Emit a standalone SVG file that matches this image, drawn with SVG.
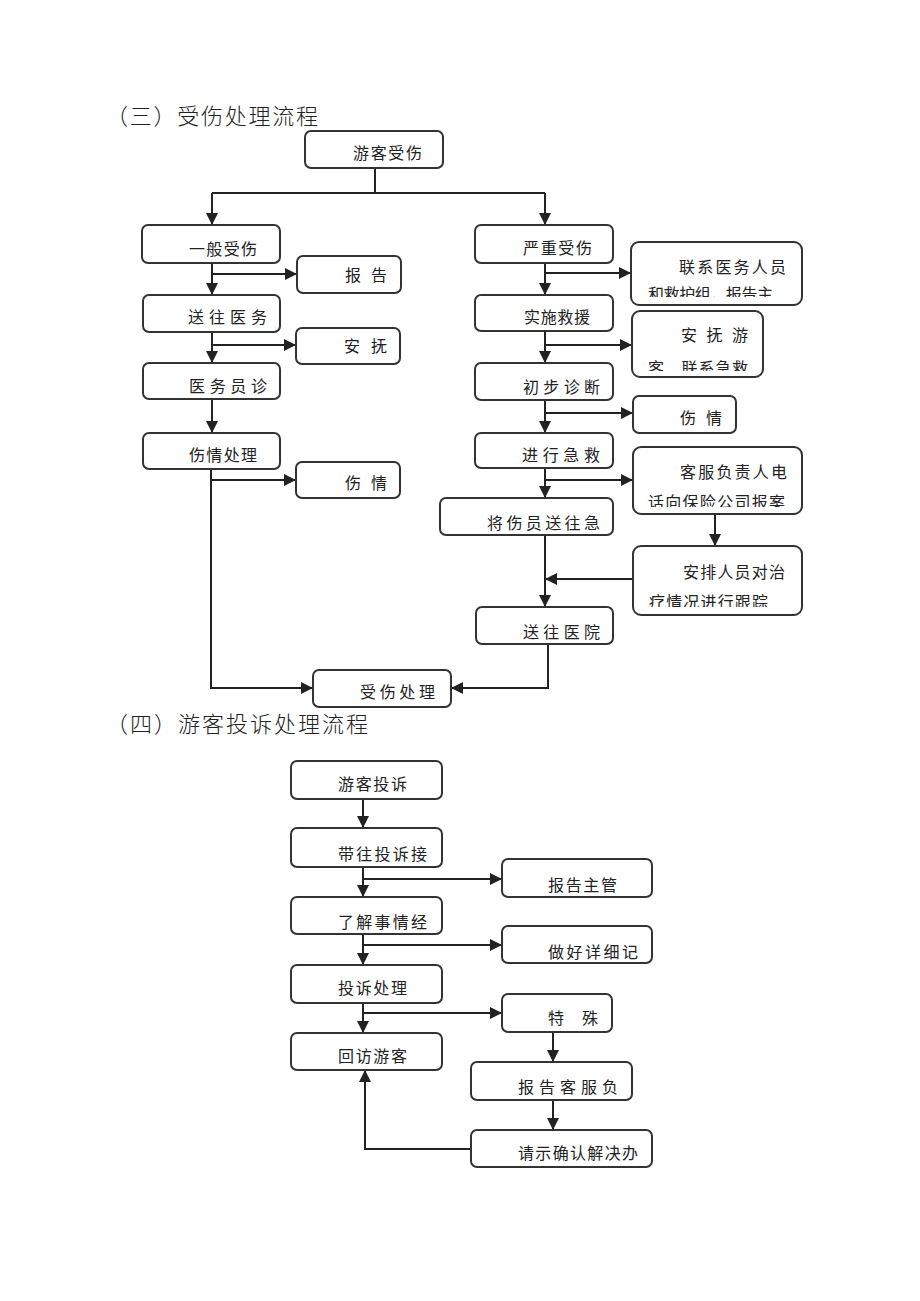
<svg xmlns="http://www.w3.org/2000/svg" width="920" height="1301" viewBox="0 0 920 1301">
<style>
.bx{fill:#fff;stroke:#333;stroke-width:2}
.t{font-family:"Noto Sans CJK SC","Noto Sans CJK JP",sans-serif;font-size:16px;fill:#222}
.h{font-family:"Noto Sans CJK SC","Noto Sans CJK JP",sans-serif;font-size:22px;font-weight:300;fill:#222}
.ln{fill:none;stroke:#222;stroke-width:2}
</style>
<defs>
<marker id="ar" markerUnits="userSpaceOnUse" markerWidth="12" markerHeight="12" viewBox="0 0 12 12" refX="11" refY="6" orient="auto">
<path d="M0,0 L12,6 L0,12 Z" fill="#222"/>
</marker>
<clipPath id="c1"><rect x="631" y="242" width="171" height="55"/></clipPath>
<clipPath id="c2"><rect x="632" y="311" width="131" height="60"/></clipPath>
<clipPath id="c3"><rect x="633" y="447" width="169" height="60"/></clipPath>
<clipPath id="c4"><rect x="633" y="546" width="169" height="61"/></clipPath>
</defs>
<rect width="920" height="1301" fill="#fff"/>

<text class="h" x="106" y="124" textLength="212" lengthAdjust="spacing">（三）受伤处理流程</text>
<text class="h" x="106" y="732" textLength="262" lengthAdjust="spacing">（四）游客投诉处理流程</text>

<g id="connectors">
<path class="ln" d="M375,168 V193 M212,193 H545"/>
<path class="ln" d="M212,193 V224" marker-end="url(#ar)"/>
<path class="ln" d="M545,193 V224" marker-end="url(#ar)"/>
<path class="ln" d="M212,263 V294" marker-end="url(#ar)"/>
<path class="ln" d="M212,274 H296" marker-end="url(#ar)"/>
<path class="ln" d="M212,332 V362" marker-end="url(#ar)"/>
<path class="ln" d="M212,345 H295" marker-end="url(#ar)"/>
<path class="ln" d="M212,399 V432" marker-end="url(#ar)"/>
<path class="ln" d="M211,469 V688 H312" marker-end="url(#ar)"/>
<path class="ln" d="M211,480 H295" marker-end="url(#ar)"/>
<path class="ln" d="M545,263 V294" marker-end="url(#ar)"/>
<path class="ln" d="M545,273 H630" marker-end="url(#ar)"/>
<path class="ln" d="M545,331 V362" marker-end="url(#ar)"/>
<path class="ln" d="M545,345 H631" marker-end="url(#ar)"/>
<path class="ln" d="M545,400 V432" marker-end="url(#ar)"/>
<path class="ln" d="M545,413 H632" marker-end="url(#ar)"/>
<path class="ln" d="M545,468 V497" marker-end="url(#ar)"/>
<path class="ln" d="M545,480 H632" marker-end="url(#ar)"/>
<path class="ln" d="M715,514 V545" marker-end="url(#ar)"/>
<path class="ln" d="M545,535 V606" marker-end="url(#ar)"/>
<path class="ln" d="M633,579 H546" marker-end="url(#ar)"/>
<path class="ln" d="M548,644 V688 H452" marker-end="url(#ar)"/>

<path class="ln" d="M363,799 V827" marker-end="url(#ar)"/>
<path class="ln" d="M363,867 V896" marker-end="url(#ar)"/>
<path class="ln" d="M363,879 H501" marker-end="url(#ar)"/>
<path class="ln" d="M363,934 V964" marker-end="url(#ar)"/>
<path class="ln" d="M363,945 H501" marker-end="url(#ar)"/>
<path class="ln" d="M363,1003 V1032" marker-end="url(#ar)"/>
<path class="ln" d="M363,1013 H501" marker-end="url(#ar)"/>
<path class="ln" d="M553,1032 V1061" marker-end="url(#ar)"/>
<path class="ln" d="M553,1100 V1129" marker-end="url(#ar)"/>
<path class="ln" d="M471,1149 H365 V1071" marker-end="url(#ar)"/>
</g>

<g id="n_youke"><rect class="bx" x="305" y="131" width="138" height="37" rx="6"/><text class="t" x="353" y="159" textLength="69" lengthAdjust="spacing">游客受伤</text></g>
<g id="n_yiban"><rect class="bx" x="142" y="225" width="138" height="38" rx="6"/><text class="t" x="189" y="255" textLength="68" lengthAdjust="spacing">一般受伤</text></g>
<g id="n_baogao1"><rect class="bx" x="297" y="256" width="104" height="37" rx="6"/><text class="t" x="345" y="281" textLength="42" lengthAdjust="spacing">报告</text></g>
<g id="n_songwang"><rect class="bx" x="143" y="295" width="137" height="37" rx="6"/><text class="t" x="188" y="323" textLength="79" lengthAdjust="spacing">送往医务</text></g>
<g id="n_anfu1"><rect class="bx" x="296" y="328" width="104" height="36" rx="6"/><text class="t" x="344" y="352" textLength="43" lengthAdjust="spacing">安抚</text></g>
<g id="n_yiwu"><rect class="bx" x="143" y="363" width="137" height="36" rx="6"/><text class="t" x="189" y="392" textLength="78" lengthAdjust="spacing">医务员诊</text></g>
<g id="n_shangqingcl"><rect class="bx" x="143" y="433" width="137" height="36" rx="6"/><text class="t" x="189" y="461" textLength="68" lengthAdjust="spacing">伤情处理</text></g>
<g id="n_shangqing1"><rect class="bx" x="296" y="462" width="104" height="36" rx="6"/><text class="t" x="345" y="489" textLength="42" lengthAdjust="spacing">伤情</text></g>
<g id="n_shoushang"><rect class="bx" x="313" y="670" width="138" height="37" rx="6"/><text class="t" x="360" y="698" textLength="75" lengthAdjust="spacing">受伤处理</text></g>

<g id="n_yanzhong"><rect class="bx" x="475" y="225" width="138" height="38" rx="6"/><text class="t" x="523" y="254" textLength="69" lengthAdjust="spacing">严重受伤</text></g>
<g id="n_lianxi"><rect class="bx" x="631" y="242" width="171" height="63" rx="8"/><text class="t" x="679" y="273" font-size="18" textLength="107" lengthAdjust="spacing">联系医务人员</text><text class="t" x="648" y="300" textLength="125" lengthAdjust="spacing" clip-path="url(#c1)">和救护组，报告主</text></g>
<g id="n_shishi"><rect class="bx" x="475" y="295" width="138" height="36" rx="6"/><text class="t" x="524" y="323" textLength="66" lengthAdjust="spacing">实施救援</text></g>
<g id="n_anfu2"><rect class="bx" x="632" y="311" width="131" height="66" rx="8"/><text class="t" x="681" y="341" font-size="18" textLength="67" lengthAdjust="spacing">安抚游</text><text class="t" x="648" y="374" textLength="100" lengthAdjust="spacing" clip-path="url(#c2)">客、联系急救</text></g>
<g id="n_chubu"><rect class="bx" x="475" y="363" width="138" height="37" rx="6"/><text class="t" x="523" y="393" textLength="77" lengthAdjust="spacing">初步诊断</text></g>
<g id="n_shangqing2"><rect class="bx" x="633" y="396" width="103" height="37" rx="6"/><text class="t" x="680" y="424" textLength="42" lengthAdjust="spacing">伤情</text></g>
<g id="n_jinxing"><rect class="bx" x="475" y="433" width="138" height="35" rx="6"/><text class="t" x="522" y="461" textLength="78" lengthAdjust="spacing">进行急救</text></g>
<g id="n_kefu"><rect class="bx" x="633" y="447" width="169" height="67" rx="8"/><text class="t" x="680" y="478" font-size="18" textLength="107" lengthAdjust="spacing">客服负责人电</text><text class="t" x="648" y="508" textLength="137" lengthAdjust="spacing" clip-path="url(#c3)">话向保险公司报案</text></g>
<g id="n_jiang"><rect class="bx" x="440" y="498" width="173" height="37" rx="6"/><text class="t" x="487" y="529" textLength="113" lengthAdjust="spacing">将伤员送往急</text></g>
<g id="n_anpai"><rect class="bx" x="633" y="546" width="169" height="69" rx="8"/><text class="t" x="683" y="578" font-size="18" textLength="102" lengthAdjust="spacing">安排人员对治</text><text class="t" x="649" y="608" textLength="119" lengthAdjust="spacing" clip-path="url(#c4)">疗情况进行跟踪</text></g>
<g id="n_yiyuan"><rect class="bx" x="476" y="607" width="137" height="37" rx="6"/><text class="t" x="523" y="638" textLength="77" lengthAdjust="spacing">送往医院</text></g>

<g id="n_tousu"><rect class="bx" x="291" y="761" width="151" height="38" rx="6"/><text class="t" x="338" y="790" textLength="69" lengthAdjust="spacing">游客投诉</text></g>
<g id="n_daiwang"><rect class="bx" x="291" y="828" width="151" height="39" rx="6"/><text class="t" x="338" y="860" textLength="89" lengthAdjust="spacing">带往投诉接</text></g>
<g id="n_zhuguan"><rect class="bx" x="502" y="859" width="150" height="38" rx="6"/><text class="t" x="548" y="891" textLength="69" lengthAdjust="spacing">报告主管</text></g>
<g id="n_liaojie"><rect class="bx" x="291" y="897" width="151" height="37" rx="6"/><text class="t" x="338" y="928" textLength="89" lengthAdjust="spacing">了解事情经</text></g>
<g id="n_zuohao"><rect class="bx" x="502" y="926" width="150" height="37" rx="6"/><text class="t" x="548" y="958" textLength="90" lengthAdjust="spacing">做好详细记</text></g>
<g id="n_tousucl"><rect class="bx" x="291" y="965" width="151" height="38" rx="6"/><text class="t" x="338" y="994" textLength="69" lengthAdjust="spacing">投诉处理</text></g>
<g id="n_teshu"><rect class="bx" x="502" y="994" width="110" height="38" rx="6"/><text class="t" x="548" y="1024" textLength="50" lengthAdjust="spacing">特殊</text></g>
<g id="n_huifang"><rect class="bx" x="291" y="1033" width="151" height="37" rx="6"/><text class="t" x="338" y="1062" textLength="69" lengthAdjust="spacing">回访游客</text></g>
<g id="n_kefufu"><rect class="bx" x="471" y="1062" width="161" height="38" rx="6"/><text class="t" x="518" y="1093" textLength="100" lengthAdjust="spacing">报告客服负</text></g>
<g id="n_qingshi"><rect class="bx" x="471" y="1130" width="181" height="37" rx="6"/><text class="t" x="518" y="1159" textLength="120" lengthAdjust="spacing">请示确认解决办</text></g>
</svg>
